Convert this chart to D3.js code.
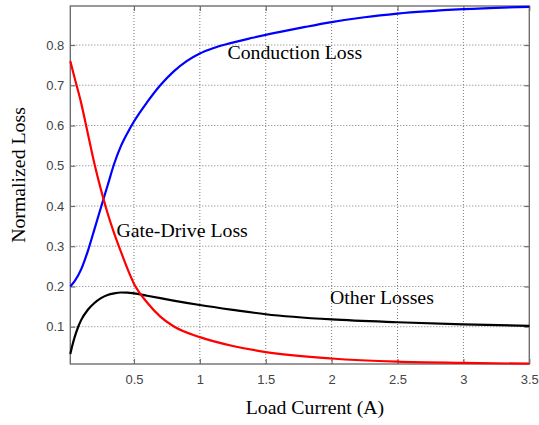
<!DOCTYPE html>
<html>
<head>
<meta charset="utf-8">
<script src="https://cdn.jsdelivr.net/npm/d3@7"></script>
<style>
  html, body { margin: 0; padding: 0; background: #fff; }
  svg { display: block; }
</style>
</head>
<body>
<svg id="chart" width="539" height="425"></svg>
<script>
// Load current samples (A) for each loss curve
const conductionX = [0.017, 0.05, 0.1, 0.15, 0.2, 0.25, 0.3, 0.35, 0.4, 0.45, 0.5, 0.6, 0.7, 0.8, 0.9, 1.0, 1.1, 1.2, 1.4, 1.6, 1.8, 2.0, 2.25, 2.5, 3.0, 3.5];
const conductionLoss = [0.200, 0.213, 0.243, 0.288, 0.342, 0.397, 0.451, 0.505, 0.548, 0.581, 0.610, 0.658, 0.700, 0.734, 0.760, 0.779, 0.792, 0.802, 0.818, 0.832, 0.845, 0.857, 0.869, 0.878, 0.889, 0.895];

const gateX = [0.017, 0.05, 0.1, 0.15, 0.2, 0.25, 0.3, 0.35, 0.4, 0.5, 0.6, 0.7, 0.8, 1.0, 1.25, 1.5, 2.0, 2.5, 3.0, 3.5];
const gateDriveLoss = [0.760, 0.718, 0.655, 0.580, 0.505, 0.440, 0.382, 0.332, 0.287, 0.207, 0.160, 0.125, 0.101, 0.074, 0.052, 0.037, 0.021, 0.013, 0.010, 0.008];

const otherX = [0.017, 0.03, 0.05, 0.075, 0.1, 0.15, 0.2, 0.25, 0.3, 0.35, 0.4, 0.45, 0.5, 0.6, 0.7, 0.8, 1.0, 1.25, 1.5, 2.0, 2.5, 3.0, 3.5];
const otherLosses = [0.032, 0.050, 0.074, 0.098, 0.117, 0.142, 0.159, 0.171, 0.179, 0.183, 0.185, 0.1848, 0.183, 0.177, 0.171, 0.165, 0.154, 0.142, 0.131, 0.118, 0.111, 0.106, 0.102];

const xTicks = [0.5, 1, 1.5, 2, 2.5, 3, 3.5];
const yTicks = [0.1, 0.2, 0.3, 0.4, 0.5, 0.6, 0.7, 0.8];

const xDomain = [0.017, 3.5];
const yDomain = [0.0073, 0.897];

const svg = d3.select("#chart");
const plotLeft = 70.3, plotRight = 529.3, plotTop = 6, plotBottom = 364;

const x = d3.scaleLinear().domain(xDomain).range([plotLeft, plotRight]);
const y = d3.scaleLinear().domain(yDomain).range([plotBottom, plotTop]);

const axisColor = "#6e6e6e";
const gridColor = "#7a7a7a";
const tickFont = "'Liberation Sans', Arial, sans-serif";
const serif = "'Liberation Serif', 'Times New Roman', serif";

// dotted grid
const grid = svg.append("g");
grid.selectAll("line.gx").data(xTicks.filter(t => t < 3.5)).enter().append("line")
  .attr("x1", d => x(d)).attr("x2", d => x(d))
  .attr("y1", plotTop).attr("y2", plotBottom)
  .attr("stroke", gridColor).attr("stroke-width", 1).attr("stroke-dasharray", "1,2");
grid.selectAll("line.gy").data(yTicks).enter().append("line")
  .attr("x1", plotLeft).attr("x2", plotRight)
  .attr("y1", d => y(d)).attr("y2", d => y(d))
  .attr("stroke", gridColor).attr("stroke-width", 1).attr("stroke-dasharray", "1,2");

// axes with inward ticks on all four sides
const tickLen = 5;
const xAxisB = d3.axisBottom(x).tickValues(xTicks).tickSizeInner(-tickLen).tickSizeOuter(0).tickPadding(11)
  .tickFormat(d3.format("~g"));
const xAxisT = d3.axisTop(x).tickValues(xTicks).tickSizeInner(-tickLen).tickSizeOuter(0).tickFormat("");
const yAxisL = d3.axisLeft(y).tickValues(yTicks).tickSizeInner(-tickLen).tickSizeOuter(0).tickPadding(11)
  .tickFormat(d3.format(".1f"));
const yAxisR = d3.axisRight(y).tickValues(yTicks).tickSizeInner(-tickLen).tickSizeOuter(0).tickFormat("");

function styleAxis(g) {
  g.select(".domain").remove();
  g.selectAll(".tick line").attr("stroke", axisColor).attr("stroke-width", 1.2);
  g.selectAll(".tick text").attr("fill", "#444").style("font-family", tickFont).style("font-size", "13px");
}

svg.append("g").attr("transform", `translate(0,${plotBottom})`).call(xAxisB).call(styleAxis)
  .selectAll(".tick text").attr("dy", "0.71em");
svg.append("g").attr("transform", `translate(0,${plotTop})`).call(xAxisT).call(styleAxis);
svg.append("g").attr("transform", `translate(${plotLeft},0)`).call(yAxisL).call(styleAxis)
  .selectAll(".tick text").attr("x", -6);
svg.append("g").attr("transform", `translate(${plotRight},0)`).call(yAxisR).call(styleAxis);

// plot box
svg.append("rect")
  .attr("x", plotLeft).attr("y", plotTop)
  .attr("width", plotRight - plotLeft).attr("height", plotBottom - plotTop)
  .attr("fill", "none").attr("stroke", axisColor).attr("stroke-width", 1.4);

// loss curves
const line = d3.line().x(d => x(d[0])).y(d => y(d[1])).curve(d3.curveMonotoneX);
const series = [
  { xs: otherX, ys: otherLosses, color: "#000000" },
  { xs: conductionX, ys: conductionLoss, color: "#0000ff" },
  { xs: gateX, ys: gateDriveLoss, color: "#ff0000" }
];
series.forEach(s => {
  svg.append("path")
    .datum(s.xs.map((v, i) => [v, s.ys[i]]))
    .attr("d", line)
    .attr("fill", "none")
    .attr("stroke", s.color)
    .attr("stroke-width", 2.2)
    .attr("stroke-linejoin", "round");
});

// curve annotations
const labelSize = "19.8px";
const labels = [
  { text: "Conduction Loss", x: 227.5, y: 59 },
  { text: "Gate-Drive Loss", x: 116.5, y: 237 },
  { text: "Other Losses", x: 330, y: 304 }
];
svg.selectAll("text.lbl").data(labels).enter().append("text")
  .attr("class", "lbl")
  .attr("x", d => d.x).attr("y", d => d.y)
  .style("font-family", serif).style("font-size", labelSize)
  .attr("fill", "#000")
  .text(d => d.text);

// axis titles
svg.append("text")
  .attr("x", 315).attr("y", 414)
  .attr("text-anchor", "middle")
  .style("font-family", serif).style("font-size", labelSize)
  .text("Load Current (A)");
svg.append("text")
  .attr("transform", "translate(25,175) rotate(-90)")
  .attr("text-anchor", "middle")
  .style("font-family", serif).style("font-size", labelSize)
  .text("Normalized Loss");
</script>
</body>
</html>
